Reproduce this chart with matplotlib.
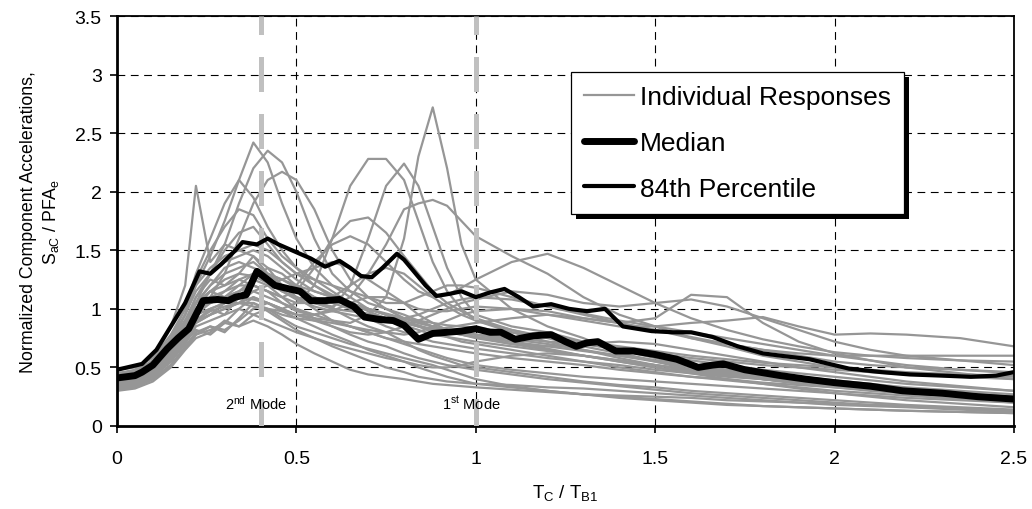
import matplotlib
matplotlib.use("Agg")
import matplotlib.pyplot as plt
from matplotlib.patches import Rectangle
from matplotlib.lines import Line2D
from matplotlib.transforms import IdentityTransform

plt.rcParams['font.family'] = ['Liberation Sans', 'DejaVu Sans']
plt.rcParams['mathtext.default'] = 'regular'

# ---------------- data ----------------
t_grid = [0, .05, .1, .15, .19, .22, .26, .3, .34, .38, .42, .46, .5, .55, .6, .65, .7, .75,
          .8, .84, .88, .92, .96, 1.0, 1.1, 1.2, 1.3, 1.4, 1.5, 1.6, 1.7, 1.8, 1.9, 2.0,
          2.1, 2.2, 2.35, 2.5]

r01 = [0.40,0.42,0.48,0.62,0.80,0.95,1.00,1.05,1.10,1.08,1.05,1.00,0.95,0.92,0.90,0.88,0.95,1.10,1.60,2.30,2.72,2.20,1.55,1.25,1.00,0.85,0.75,0.62,0.55,0.48,0.45,0.40,0.36,0.33,0.30,0.28,0.25,0.22]
r02 = [0.35,0.38,0.45,0.60,0.75,0.90,0.95,1.00,1.05,1.10,1.05,1.00,1.05,1.20,1.60,2.05,2.28,2.28,2.10,1.75,1.40,1.15,1.00,0.90,0.80,0.72,0.65,0.58,0.52,0.47,0.44,0.40,0.37,0.34,0.31,0.28,0.25,0.22]
r03 = [0.38,0.40,0.48,0.65,0.85,1.00,1.05,1.10,1.15,1.20,1.15,1.05,0.98,0.95,1.00,1.20,1.60,2.05,2.24,2.05,1.70,1.35,1.10,0.95,0.85,0.80,0.72,0.65,0.58,0.52,0.48,0.44,0.40,0.37,0.34,0.31,0.28,0.25]
r04 = [0.42,0.44,0.52,0.70,0.90,1.05,1.15,1.20,1.25,1.30,1.25,1.15,1.10,1.05,1.02,1.10,1.30,1.55,1.85,1.90,1.93,1.88,1.75,1.62,1.45,1.30,1.10,0.95,0.85,0.75,0.68,0.60,0.55,0.50,0.46,0.44,0.42,0.40]
r05 = [0.45,0.48,0.60,0.85,1.20,2.05,1.40,1.55,1.50,1.45,1.30,1.20,1.10,1.00,0.90,0.85,0.80,0.75,0.72,0.70,0.68,0.66,0.64,0.62,0.58,0.55,0.52,0.48,0.45,0.42,0.40,0.37,0.35,0.33,0.31,0.29,0.27,0.25]
r06 = [0.40,0.43,0.52,0.70,0.95,1.20,1.45,1.75,2.10,2.42,2.25,1.90,1.60,1.35,1.20,1.10,1.00,0.95,0.90,0.85,0.80,0.76,0.72,0.70,0.65,0.60,0.55,0.50,0.46,0.42,0.39,0.36,0.33,0.30,0.28,0.26,0.23,0.20]
r07 = [0.38,0.40,0.48,0.62,0.85,1.05,1.30,1.55,1.90,2.20,2.35,2.25,2.00,1.60,1.30,1.15,1.05,1.00,0.95,0.90,0.85,0.82,0.80,0.78,0.72,0.66,0.60,0.55,0.50,0.46,0.43,0.40,0.37,0.34,0.31,0.28,0.25,0.22]
r08 = [0.42,0.45,0.55,0.75,1.00,1.30,1.60,1.90,2.10,1.95,1.70,1.50,1.35,1.20,1.10,1.00,0.92,0.85,0.80,0.76,0.72,0.70,0.68,0.66,0.62,0.58,0.55,0.52,0.48,0.45,0.42,0.40,0.37,0.35,0.32,0.30,0.27,0.24]
r09 = [0.36,0.39,0.46,0.60,0.80,0.95,1.10,1.30,1.60,1.90,2.10,2.17,2.10,1.85,1.50,1.25,1.10,1.00,0.92,0.88,0.85,0.82,0.80,0.78,0.74,0.70,0.65,0.60,0.55,0.50,0.46,0.42,0.39,0.36,0.33,0.30,0.27,0.24]
r10 = [0.40,0.42,0.50,0.65,0.85,1.00,1.10,1.15,1.20,1.20,1.15,1.10,1.15,1.35,1.60,1.75,1.78,1.65,1.45,1.30,1.15,1.05,0.98,0.92,0.82,0.75,0.68,0.62,0.56,0.51,0.47,0.43,0.40,0.37,0.34,0.31,0.28,0.25]
r11 = [0.44,0.46,0.55,0.72,0.90,1.05,1.15,1.25,1.30,1.28,1.22,1.15,1.20,1.40,1.55,1.62,1.55,1.40,1.25,1.15,1.10,1.12,1.18,1.25,1.40,1.47,1.35,1.20,1.05,0.92,0.82,0.74,0.68,0.63,0.60,0.58,0.56,0.55]
r12 = [0.38,0.40,0.46,0.60,0.78,0.90,0.98,1.02,1.05,1.05,1.00,0.95,0.92,0.90,0.88,0.85,0.82,0.80,0.78,0.80,0.85,0.90,0.95,0.98,1.00,0.98,0.92,0.88,0.92,1.12,1.10,0.88,0.72,0.62,0.56,0.50,0.45,0.40]
r13 = [0.40,0.42,0.50,0.65,0.82,0.95,1.00,1.05,1.05,1.02,1.00,0.98,0.95,0.95,0.98,1.05,1.10,1.10,1.05,1.00,0.98,0.98,1.00,1.02,1.00,0.95,0.90,0.85,0.85,0.88,0.90,0.93,0.85,0.78,0.79,0.78,0.75,0.68]
r14 = [0.48,0.50,0.58,0.78,1.00,1.20,1.35,1.45,1.50,1.55,1.50,1.40,1.30,1.25,1.20,1.15,1.10,1.05,1.05,1.10,1.15,1.20,1.20,1.18,1.10,1.02,0.95,0.88,0.82,0.75,0.70,0.65,0.62,0.60,0.60,0.60,0.60,0.60]
r15 = [0.32,0.34,0.40,0.52,0.68,0.80,0.85,0.82,0.90,1.00,1.05,1.00,0.95,0.90,0.85,0.78,0.72,0.68,0.62,0.58,0.55,0.52,0.50,0.48,0.44,0.40,0.37,0.34,0.31,0.28,0.26,0.24,0.22,0.20,0.18,0.17,0.15,0.13]
r16 = [0.35,0.37,0.44,0.58,0.75,0.90,1.00,0.95,1.10,1.25,1.35,1.30,1.20,1.10,1.00,0.92,0.85,0.80,0.72,0.65,0.60,0.56,0.52,0.50,0.46,0.42,0.38,0.35,0.33,0.30,0.28,0.26,0.24,0.22,0.20,0.18,0.16,0.14]
r17 = [0.40,0.42,0.50,0.66,0.85,1.05,1.20,1.30,1.35,1.40,1.30,1.25,1.18,1.10,1.05,1.00,0.95,0.90,0.88,0.85,0.83,0.80,0.78,0.76,0.70,0.65,0.60,0.56,0.52,0.48,0.45,0.42,0.39,0.36,0.33,0.30,0.27,0.25]
r18 = [0.34,0.36,0.42,0.55,0.72,0.82,0.78,0.88,1.00,1.10,1.05,0.98,0.92,0.85,0.78,0.72,0.65,0.60,0.55,0.50,0.46,0.42,0.39,0.36,0.33,0.30,0.27,0.25,0.23,0.21,0.19,0.17,0.16,0.15,0.14,0.13,0.12,0.11]
r19 = [0.45,0.47,0.56,0.75,0.95,1.15,1.30,1.40,1.45,1.50,1.45,1.35,1.25,1.15,1.10,1.05,1.00,0.96,0.92,0.88,0.85,0.82,0.80,0.78,0.75,0.72,0.70,0.66,0.62,0.58,0.55,0.52,0.50,0.48,0.46,0.45,0.44,0.43]
r20 = [0.30,0.32,0.38,0.50,0.65,0.75,0.80,0.90,0.85,0.95,1.00,0.92,0.85,0.80,0.75,0.70,0.66,0.62,0.58,0.55,0.52,0.48,0.44,0.40,0.34,0.30,0.27,0.24,0.22,0.20,0.18,0.17,0.16,0.15,0.14,0.13,0.12,0.11]
r21 = [0.42,0.45,0.52,0.70,0.90,1.10,1.25,1.20,1.30,1.45,1.35,1.20,1.10,1.05,1.00,0.98,0.96,0.92,0.88,0.85,0.82,0.84,0.86,0.88,0.92,0.95,0.92,0.88,0.82,0.76,0.70,0.65,0.60,0.55,0.52,0.50,0.48,0.46]
r22 = [0.36,0.38,0.45,0.58,0.75,0.88,0.95,1.00,1.05,1.15,1.20,1.25,1.30,1.35,1.40,1.35,1.25,1.15,1.05,0.95,0.88,0.82,0.78,0.75,0.70,0.68,0.70,0.72,0.70,0.65,0.60,0.55,0.50,0.46,0.42,0.38,0.34,0.30]
r23 = [0.33,0.35,0.42,0.55,0.70,0.85,0.90,0.95,1.00,0.95,0.90,0.85,0.80,0.75,0.70,0.66,0.62,0.58,0.55,0.52,0.50,0.50,0.52,0.55,0.60,0.62,0.60,0.55,0.50,0.45,0.40,0.36,0.32,0.28,0.25,0.22,0.19,0.16]
r24 = [0.38,0.40,0.48,0.64,0.85,1.00,1.15,1.10,1.20,1.30,1.25,1.15,1.08,1.02,0.98,0.95,0.92,0.90,0.92,0.95,1.00,1.05,1.08,1.10,1.08,1.02,0.96,0.90,0.85,0.80,0.75,0.70,0.65,0.60,0.56,0.52,0.48,0.45]
r25 = [0.31,0.33,0.40,0.52,0.66,0.78,0.85,0.80,0.92,1.05,0.98,0.90,0.82,0.75,0.68,0.62,0.56,0.50,0.46,0.42,0.40,0.38,0.37,0.36,0.35,0.33,0.32,0.30,0.28,0.26,0.24,0.22,0.20,0.18,0.17,0.16,0.14,0.12]
r26 = [0.44,0.46,0.55,0.72,0.95,1.25,1.50,1.70,1.85,1.80,1.60,1.45,1.35,1.25,1.15,1.05,0.98,0.92,0.86,0.82,0.78,0.76,0.74,0.72,0.68,0.64,0.60,0.56,0.52,0.48,0.45,0.42,0.39,0.36,0.33,0.30,0.27,0.24]
r27 = [0.37,0.39,0.47,0.62,0.82,1.00,1.05,1.15,1.25,1.20,1.15,1.10,1.05,1.05,1.10,1.20,1.30,1.35,1.30,1.20,1.10,1.02,0.95,0.90,0.82,0.76,0.70,0.65,0.60,0.56,0.52,0.48,0.45,0.42,0.39,0.36,0.33,0.30]
r28 = [0.39,0.41,0.49,0.65,0.80,0.95,1.05,1.10,1.15,1.25,1.20,1.10,1.00,0.92,0.85,0.80,0.78,0.80,0.85,0.90,0.95,1.00,1.05,1.08,1.15,1.12,1.05,1.02,1.05,1.08,1.02,0.92,0.82,0.72,0.65,0.60,0.56,0.52]
r29 = [0.34,0.36,0.43,0.56,0.72,0.88,0.95,1.05,1.10,1.15,1.10,1.05,1.00,0.95,0.90,0.85,0.80,0.75,0.70,0.66,0.62,0.58,0.55,0.52,0.48,0.45,0.42,0.40,0.38,0.36,0.34,0.32,0.30,0.28,0.26,0.24,0.22,0.20]
r30 = [0.41,0.43,0.52,0.68,0.88,1.10,1.30,1.50,1.65,1.70,1.55,1.40,1.30,1.20,1.12,1.05,1.00,0.95,0.90,0.86,0.82,0.80,0.78,0.76,0.72,0.68,0.64,0.60,0.56,0.52,0.48,0.45,0.42,0.39,0.36,0.33,0.30,0.27]
r31 = [0.32,0.34,0.40,0.52,0.66,0.78,0.82,0.88,0.85,0.90,0.85,0.78,0.70,0.62,0.55,0.48,0.44,0.42,0.40,0.38,0.36,0.35,0.34,0.33,0.31,0.29,0.27,0.26,0.25,0.24,0.22,0.21,0.20,0.19,0.18,0.17,0.15,0.13]
r32 = [0.40,0.42,0.50,0.66,0.88,1.05,1.20,1.35,1.40,1.35,1.30,1.25,1.20,1.15,1.10,1.05,1.00,0.95,0.92,0.90,0.88,0.86,0.85,0.84,0.80,0.76,0.72,0.68,0.64,0.60,0.57,0.54,0.52,0.50,0.48,0.46,0.44,0.42]

median_t = [0, 0.05, 0.07, 0.10, 0.14, 0.17, 0.20, 0.24, 0.28, 0.31, 0.33, 0.36, 0.39, 0.42, 0.44, 0.48,
            0.51, 0.54, 0.58, 0.62, 0.66, 0.69, 0.73, 0.77, 0.80, 0.84, 0.88, 0.92, 0.96, 1.0,
            1.04, 1.07, 1.11, 1.16, 1.21, 1.25, 1.28, 1.31, 1.34, 1.39, 1.44, 1.50, 1.56, 1.62,
            1.66, 1.69, 1.75, 1.85, 1.92, 2.0, 2.1, 2.19, 2.3, 2.4, 2.5]
median_y = [0.41, 0.43, 0.46, 0.52, 0.66, 0.75, 0.83, 1.07, 1.08, 1.07, 1.10, 1.12, 1.32, 1.25, 1.20, 1.17,
            1.15, 1.07, 1.07, 1.08, 1.02, 0.93, 0.91, 0.90, 0.86, 0.74, 0.79, 0.80, 0.81, 0.83,
            0.80, 0.80, 0.74, 0.77, 0.78, 0.72, 0.68, 0.71, 0.72, 0.64, 0.64, 0.61, 0.57, 0.50,
            0.52, 0.53, 0.48, 0.43, 0.40, 0.37, 0.34, 0.30, 0.28, 0.25, 0.23]

p84_t = [0, 0.07, 0.11, 0.15, 0.19, 0.23, 0.26, 0.29, 0.33, 0.35, 0.39, 0.42, 0.45, 0.48, 0.51, 0.54,
         0.58, 0.62, 0.65, 0.68, 0.71, 0.74, 0.78, 0.80, 0.83, 0.86, 0.89, 0.93, 0.96, 1.0, 1.04,
         1.08, 1.12, 1.16, 1.21, 1.26, 1.31, 1.36, 1.41, 1.49, 1.55, 1.60, 1.66, 1.73, 1.80, 1.85,
         1.93, 2.04, 2.13, 2.21, 2.3, 2.38, 2.45, 2.5]
p84_y = [0.48, 0.53, 0.65, 0.85, 1.05, 1.32, 1.30, 1.38, 1.50, 1.57, 1.55, 1.60, 1.55, 1.51, 1.47, 1.43,
         1.36, 1.41, 1.35, 1.28, 1.27, 1.35, 1.47, 1.42, 1.31, 1.20, 1.11, 1.13, 1.15, 1.10, 1.14,
         1.17, 1.10, 1.02, 1.04, 1.00, 0.98, 1.00, 0.85, 0.81, 0.80, 0.80, 0.76, 0.68, 0.62, 0.60,
         0.57, 0.49, 0.46, 0.44, 0.43, 0.42, 0.43, 0.46]

mode_t = [0.4, 1.0]
mode_labels = ['2$^{nd}$ Mode', '1$^{st}$ Mode']

x_ticks = [0, 0.5, 1, 1.5, 2, 2.5]
x_tick_labels = ['0', '0.5', '1', '1.5', '2', '2.5']
y_ticks = [0, 0.5, 1, 1.5, 2, 2.5, 3, 3.5]
y_tick_labels = ['0', '0.5', '1', '1.5', '2', '2.5', '3', '3.5']

responses = [r01, r02, r03, r04, r05, r06, r07, r08, r09, r10, r11, r12, r13, r14, r15, r16,
             r17, r18, r19, r20, r21, r22, r23, r24, r25, r26, r27, r28, r29, r30, r31, r32]

# ---------------- plot ----------------
DPI = 100
fig = plt.figure(figsize=(10.32, 5.10), dpi=DPI)
ax = fig.add_axes([117/1032, 83/510, 897/1032, 410/510])

grey = '#969696'
for r in responses:
    ax.plot(t_grid, r, color=grey, lw=1.6, zorder=2, solid_joinstyle='round')

for m in mode_t:
    ax.axvline(m, color='#c0c0c0', lw=3.6, linestyle=(1.5, (7, 4.4)), zorder=3)

ax.plot(p84_t, p84_y, color='black', lw=3.0, zorder=4, solid_joinstyle='round')
ax.plot(median_t, median_y, color='black', lw=5.0, zorder=4, solid_joinstyle='round')

for m, lab in zip(mode_t, mode_labels):
    ax.text(m - 0.012, 0.2, lab, ha='center', va='center', fontsize=10.5, zorder=5)

ax.set_xlim(0, 2.5)
ax.set_ylim(0, 3.5)
ax.set_xticks(x_ticks)
ax.set_xticklabels(x_tick_labels)
ax.set_yticks(y_ticks)
ax.set_yticklabels(y_tick_labels)
ax.tick_params(axis='both', labelsize=14, direction='out', length=5, width=1.2, colors='black')
ax.tick_params(axis='x', pad=12)
ax.tick_params(axis='y', pad=6)
ax.grid(True, color='black', lw=0.8, linestyle=(0, (7, 5)), zorder=1)
ax.set_axisbelow(True)
for side in ['top', 'right']:
    ax.spines[side].set_linewidth(1.3)
for side in ['left', 'bottom']:
    ax.spines[side].set_linewidth(2.0)

ax.set_xlabel('T$_C$ / T$_{B1}$', fontsize=13.5, labelpad=11)
ax.set_ylabel('Normalized Component Accelerations,\nS$_{aC}$ / PFA$_e$', fontsize=12.8,
              labelpad=10, linespacing=1.25)

handles = [Line2D([], [], color=grey, lw=1.6),
           Line2D([], [], color='black', lw=5.0, solid_capstyle='round'),
           Line2D([], [], color='black', lw=3.0, solid_capstyle='round')]
labels = ['Individual Responses', 'Median', '84th Percentile']
leg = ax.legend(handles, labels, loc='upper left', bbox_to_anchor=(0.506, 0.863),
                borderaxespad=0, fontsize=19, frameon=True, fancybox=False,
                edgecolor='black', framealpha=1, handlelength=1.9, handletextpad=0.22,
                labelspacing=0.82, borderpad=0.5)
leg.get_frame().set_linewidth(0.9)
leg.set_zorder(6)

fig.canvas.draw()
bb = leg.get_window_extent()
shadow = Rectangle((bb.x0 + 5, bb.y0 - 5), bb.width, bb.height, transform=IdentityTransform(),
                   facecolor='black', edgecolor='none', zorder=5.9, clip_on=False)
ax.add_patch(shadow)

fig.savefig('out.png', dpi=DPI)
